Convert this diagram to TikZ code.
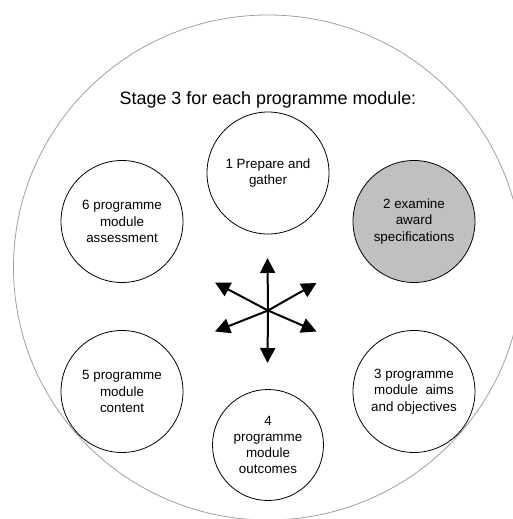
\documentclass[tikz,border=0pt]{standalone}
\usepackage{fontspec}
\setmainfont{Liberation Sans}
\usetikzlibrary{arrows.meta}
\definecolor{outerline}{HTML}{A0A0A0}
\definecolor{hilite}{HTML}{C0C0C0}
\begin{document}
\begin{tikzpicture}[x=1pt,y=-1pt,
  stagecirc/.style={circle, draw=black, line width=0.8pt, fill=white, minimum size=122pt, inner sep=0pt, align=center, font=\fontsize{13.4}{16.3}\selectfont},
  smallcirc/.style={stagecirc, minimum size=111pt},
  arrowline/.style={line width=2pt, -{Triangle[length=15pt,width=15pt]}}
]
\useasboundingbox (0,0) rectangle (513,519);
\clip (0,0) rectangle (513,519);
\fill[white] (0,0) rectangle (513,519);
\draw[outerline, line width=0.8pt] (268,267.5) ellipse [x radius=254.5pt, y radius=252.5pt];
\node[anchor=base, font=\fontsize{17.9}{21}\selectfont] (title) at (268,104.3) {Stage 3 for each programme module:};
\node[stagecirc] (n1) at (268,173) {1 Prepare and\\gather};
\node[stagecirc, fill=hilite] (n2) at (414,221.5) {2 examine\\award\\specifications};
\node[stagecirc] (n3) at (414,391.5) {3 programme\\module\ \ aims\\and objectives};
\node[smallcirc] (n4) at (268,445) {4\\programme\\module\\outcomes};
\node[stagecirc] (n5) at (122,391.5) {5 programme\\module\\content};
\node[stagecirc] (n6) at (122,221.5) {6 programme\\module\\assessment};
\coordinate (hub) at (268,310.5);
\coordinate (tu) at (267.5,258);
\coordinate (td) at (267.5,363);
\coordinate (tul) at (215,282.5);
\coordinate (tur) at (316.5,283);
\coordinate (tdl) at (215,331.5);
\coordinate (tdr) at (316.5,331.5);
\draw[arrowline] (hub) -- (tu);
\draw[arrowline] (hub) -- (td);
\draw[arrowline] (hub) -- (tul);
\draw[arrowline] (hub) -- (tur);
\draw[arrowline] (hub) -- (tdl);
\draw[arrowline] (hub) -- (tdr);
\end{tikzpicture}
\end{document}
